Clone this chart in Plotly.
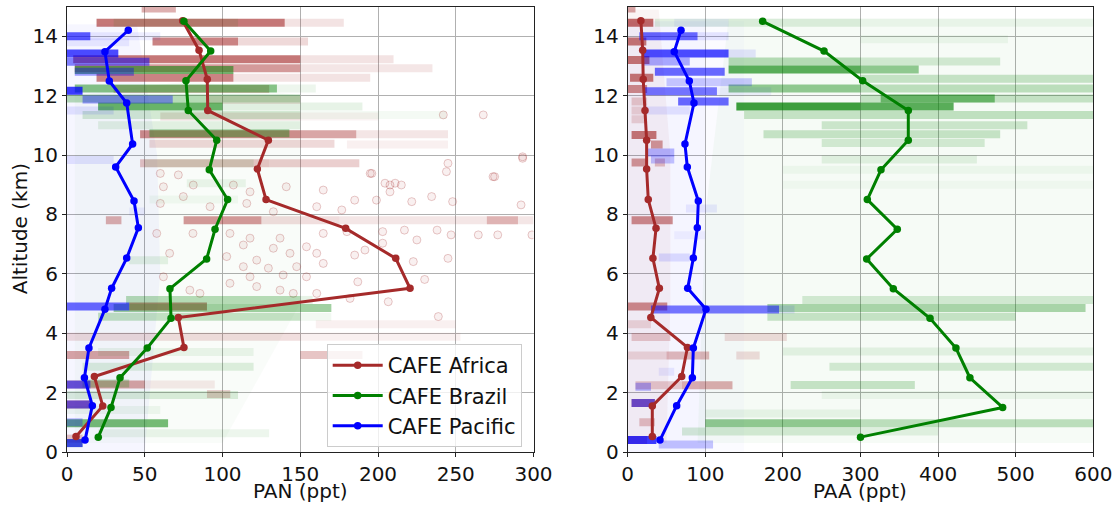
import plotly.graph_objects as go

# ---------------- mean vertical profiles (one point per 1-km bin) ----------------
africa_alt = [0.52, 1.55, 2.54, 3.52, 4.53, 5.51, 6.52, 7.53, 8.5, 9.53, 10.5, 11.5, 12.55, 13.53, 14.52]
brazil_alt = [0.5, 1.5, 2.5, 3.5, 4.5, 5.5, 6.5, 7.5, 8.5, 9.5, 10.5, 11.5, 12.5, 13.5, 14.5]
pacific_alt = [0.4, 1.56, 2.5, 3.5, 4.81, 5.51, 6.53, 7.55, 8.45, 9.6, 10.37, 11.75, 12.49, 13.48, 14.2]

africa_pan = [5.8, 23, 17.6, 75.2, 71.6, 220.6, 211.4, 179.2, 128, 122.4, 129.5, 90.5, 90.2, 84.9, 74.4]
brazil_pan = [20.1, 28.3, 34.1, 51.6, 66.9, 66.2, 89.8, 95.2, 103.3, 91.5, 96.3, 78, 76.5, 92.4, 75.2]
pacific_pan = [11.6, 16.3, 11.2, 14.1, 24.4, 28.7, 38.4, 45.9, 43.1, 31.3, 42.2, 38.4, 27.2, 24.4, 39.4]

africa_paa = [31.7, 31.7, 69.6, 77, 29.8, 40.8, 32.5, 36.5, 26.5, 24.4, 24.4, 22.3, 20, 19.3, 17]
brazil_paa = [300, 483.2, 441, 423, 389.6, 342.3, 308, 347.4, 308.8, 326.4, 361.6, 361.6, 302.8, 253, 173.9]
pacific_paa = [41.6, 63.1, 83.3, 84.6, 100.9, 77.3, 84.6, 89.7, 91, 76.8, 73.8, 85.4, 79.4, 60, 68.7]

# ---------------- individual measurements, summarised as horizontal bands ----------------
# each entry: (altitude km, lower mixing ratio, upper mixing ratio, density)
africa_pan_bands = [
    (14.93, 48, 70, 0.45), (14.45, 19, 140, 0.7), (14.45, 140, 178, 0.2),
    (13.82, 55, 110, 0.65), (13.82, 110, 155, 0.25), (13.22, 4, 150, 0.7), (13.22, 150, 210, 0.2),
    (12.92, 5, 150, 0.55), (12.92, 150, 235, 0.18), (12.6, 19, 107, 0.65), (12.6, 107, 195, 0.2),
    (12.22, 30, 130, 0.35), (11.85, 90, 150, 0.2), (11.3, 60, 150, 0.2), (11.3, 150, 200, 0.1),
    (10.7, 47, 150, 0.6), (10.7, 150, 186, 0.5), (10.7, 186, 245, 0.18), (10.38, 53, 172, 0.25),
    (10.35, 180, 245, 0.12), (9.72, 47, 130, 0.35), (9.72, 130, 188, 0.3),
    (7.8, 25, 35, 0.45), (7.8, 75, 125, 0.55), (7.8, 125, 175, 0.22), (7.8, 175, 300, 0.18),
    (7.8, 270, 290, 0.35), (4.9, 40, 90, 0.6), (4.3, 160, 250, 0.12), (3.88, 0, 150, 0.22),
    (3.88, 150, 253, 0.12), (3.27, 0, 40, 0.5), (3.27, 150, 190, 0.35), (2.27, 0, 50, 0.5),
    (2.27, 50, 95, 0.15), (1.95, 90, 105, 0.3), (1.6, 0, 15, 0.6), (0.45, 0, 10, 0.35),
]
brazil_pan_bands = [
    (14.45, 30, 110, 0.15), (12.86, 5, 107, 0.6), (12.24, 5, 135, 0.55), (12.24, 135, 160, 0.12),
    (11.9, 0, 150, 0.35), (11.63, 20, 100, 0.65), (11.63, 100, 190, 0.15), (11.35, 10, 150, 0.22),
    (11.35, 150, 244, 0.08), (11.0, 20, 150, 0.15), (10.73, 53, 143, 0.45), (9.72, 50, 120, 0.15),
    (9.05, 77, 115, 0.12), (8.5, 53, 110, 0.08), (6.46, 40, 65, 0.15), (5.12, 38, 150, 0.35),
    (5.12, 150, 158, 0.15), (4.85, 30, 170, 0.45), (4.55, 20, 150, 0.3), (4.55, 150, 170, 0.1),
    (3.37, 20, 120, 0.12), (2.87, 10, 120, 0.18), (2.31, 10, 40, 0.3), (1.92, 0, 110, 0.2),
    (1.41, 0, 60, 0.1), (0.97, 0, 65, 0.6), (0.63, 20, 130, 0.12), (0.3, 0, 10, 0.45),
]
pacific_pan_bands = [
    (14.0, 0, 15, 0.7), (14.0, 15, 60, 0.12), (13.8, 0, 40, 0.12), (13.42, 0, 33, 0.75),
    (13.14, 0, 53, 0.55), (12.8, 5, 43, 0.45), (12.16, 0, 10, 0.8), (11.87, 10, 68, 0.45),
    (11.5, 0, 30, 0.15), (9.83, 0, 30, 0.15), (8.1, 40, 50, 0.1), (4.9, 0, 40, 0.65),
    (2.27, 0, 15, 0.6), (1.6, 0, 15, 0.55), (1.0, 0, 10, 0.35), (0.3, 0, 10, 0.7),
]

africa_paa_bands = [
    (14.93, 0, 10, 0.5), (14.45, 0, 33, 0.75), (13.82, 0, 24, 0.7), (13.2, 0, 28, 0.7),
    (12.6, 3, 33, 0.7), (12.22, 0, 25, 0.6), (11.8, 5, 25, 0.3), (11.5, 5, 25, 0.25),
    (11.2, 5, 25, 0.25), (10.67, 5, 37, 0.7), (10.35, 30, 45, 0.55), (9.75, 5, 25, 0.55),
    (9.75, 35, 48, 0.35), (7.8, 5, 58, 0.6), (4.9, 0, 51, 0.6), (4.3, 0, 30, 0.22),
    (3.87, 5, 55, 0.3), (3.87, 125, 205, 0.22), (3.25, 0, 50, 0.22), (3.25, 50, 105, 0.4),
    (3.25, 140, 170, 0.22), (2.25, 10, 70, 0.3), (2.25, 70, 135, 0.45), (1.65, 5, 35, 0.6),
    (1.0, 15, 35, 0.35), (0.4, 0, 25, 0.45),
]
brazil_paa_bands = [
    (14.45, 35, 300, 0.18), (14.45, 300, 600, 0.1), (13.9, 300, 490, 0.1), (13.15, 130, 300, 0.35),
    (13.15, 300, 480, 0.22), (12.88, 130, 300, 0.7), (12.88, 300, 375, 0.5), (12.57, 300, 600, 0.28),
    (12.24, 130, 300, 0.5), (12.24, 300, 600, 0.32), (11.9, 300, 600, 0.28), (11.9, 326, 473, 0.55),
    (11.63, 140, 300, 0.8), (11.63, 300, 420, 0.7), (11.35, 150, 300, 0.28), (11.35, 300, 600, 0.3),
    (11.0, 250, 515, 0.25), (10.7, 175, 480, 0.28), (10.4, 250, 460, 0.22), (9.85, 250, 450, 0.15),
    (9.5, 200, 600, 0.08), (9.0, 200, 600, 0.06), (5.12, 225, 600, 0.22), (4.85, 180, 590, 0.4),
    (4.55, 180, 500, 0.28), (3.38, 200, 600, 0.14), (2.87, 260, 600, 0.22), (2.26, 210, 370, 0.28),
    (1.92, 250, 600, 0.1), (1.3, 100, 300, 0.12), (0.97, 100, 300, 0.5), (0.97, 300, 600, 0.32),
    (0.69, 70, 300, 0.22), (0.69, 300, 400, 0.15),
]
pacific_paa_bands = [
    (14.45, 60, 130, 0.1), (14.0, 15, 90, 0.65), (14.0, 90, 130, 0.15), (13.42, 20, 130, 0.75),
    (13.42, 130, 165, 0.15), (13.15, 20, 80, 0.4), (12.8, 35, 125, 0.65), (12.45, 50, 160, 0.28),
    (12.15, 20, 115, 0.6), (12.15, 115, 185, 0.1), (11.8, 65, 130, 0.65), (11.5, 20, 80, 0.15),
    (10.08, 25, 60, 0.35), (9.85, 30, 60, 0.3), (8.2, 75, 115, 0.12), (7.3, 60, 100, 0.08),
    (6.55, 40, 80, 0.18), (4.8, 30, 195, 0.6), (4.8, 195, 215, 0.15), (2.7, 40, 60, 0.12),
    (2.2, 10, 30, 0.35), (1.65, 5, 35, 0.55), (0.4, 0, 37, 0.8), (0.25, 40, 110, 0.3),
]

# diffuse background of scattered samples (outline of each cloud, inner and outer)
pacific_pan_cloud_x = [0, 50, 60, 58, 45, 0]
pacific_pan_cloud_y = [0, 0, 6, 10, 14.4, 14.4]
brazil_pan_cloud_x = [5, 100, 150, 150, 80, 5]
brazil_pan_cloud_y = [0.3, 0.3, 5, 12, 12.5, 12]
africa_paa_cloud_x = [0, 50, 55, 55, 40, 0]
africa_paa_cloud_y = [0.3, 0.3, 5, 10, 14.9, 14.9]
pacific_paa_cloud_x = [0, 150, 150, 0]
pacific_paa_cloud_y = [0, 0, 14.5, 14.5]
pacific_paa_core_x = [0, 100, 100, 0]
pacific_paa_core_y = [0, 0, 14.5, 14.5]
brazil_paa_cloud_x = [90, 600, 600, 130, 100]
brazil_paa_cloud_y = [0.3, 0.3, 14.6, 14.6, 8]

# isolated Africa PAN samples in the free troposphere
africa_pan_pts_x = [196, 204.5, 211, 215, 207.7, 221.7, 234.5, 245, 244, 248, 275, 292, 293, 185, 199,
                    180, 203, 217, 238, 247, 264.5, 277, 299, 225, 203, 185, 191.6, 245, 222.7, 230,
                    187, 206.6, 182, 238.8, 60, 71.6, 62, 81.2, 107, 117.7, 141, 164.8, 160.6, 176.7,
                    60, 74.8, 92, 115.6, 132.7, 57.7, 81, 104.8, 117.7, 137, 164.8, 113.4, 132.7, 154,
                    66, 102.7, 122, 143.4, 160.6, 113.4, 129.5, 147.7, 164.8, 117.7, 139, 154, 104.8,
                    79, 122, 137, 145.5, 160.6, 85.5, 62, 267.7, 242, 293, 274, 195, 207.7]
africa_pan_pts_y = [9.38, 9.05, 9.05, 8.99, 8.76, 8.43, 8.6, 9.72, 9.44, 8.43, 9.27, 8.32, 9.89, 8.48, 8.48,
                    7.42, 7.42, 7.47, 7.47, 7.31, 7.31, 7.31, 7.31, 7.14, 7.03, 6.63, 6.8, 6.52, 6.41, 5.81,
                    5.73, 5.06, 5.17, 4.56, 9.38, 9.33, 8.93, 8.99, 8.99, 8.76, 8.93, 8.82, 8.26, 8.15,
                    8.37, 8.6, 8.26, 8.37, 8.09, 7.36, 7.36, 7.36, 7.2, 7.2, 7.36, 6.97, 6.86, 6.91,
                    6.69, 6.58, 6.46, 6.69, 6.69, 6.24, 6.19, 6.24, 6.35, 5.9, 5.96, 5.9, 5.68,
                    5.45, 5.57, 5.45, 5.34, 5.34, 5.34, 5.9, 11.35, 11.35, 9.94, 9.27, 9.38, 8.99]

BROWN = (165, 42, 42)
GREEN = (0, 128, 0)
BLUE = (0, 0, 255)


def rgba(c, a):
    return f"rgba({c[0]},{c[1]},{c[2]},{a:.3f})"


fig = go.Figure()


def add_cloud(xs, ys, color, alpha, xa, ya):
    fig.add_trace(go.Scatter(x=xs, y=ys, mode="lines", fill="toself", fillcolor=rgba(color, alpha),
                             line=dict(width=0), xaxis=xa, yaxis=ya, showlegend=False, hoverinfo="skip"))


def add_bands(table, color, xa, ya):
    for alt, lo, hi, dens in table:
        fig.add_trace(go.Scatter(x=[lo, hi], y=[alt, alt], mode="lines",
                                 line=dict(color=rgba(color, dens ** 1.25), width=8),
                                 xaxis=xa, yaxis=ya, showlegend=False, hoverinfo="skip"))


# left panel: PAN
add_cloud(brazil_pan_cloud_x, brazil_pan_cloud_y, GREEN, 0.025, "x", "y")
add_cloud(pacific_pan_cloud_x, pacific_pan_cloud_y, BLUE, 0.035, "x", "y")
fig.add_trace(go.Scatter(x=africa_pan_pts_x, y=africa_pan_pts_y, mode="markers",
                         marker=dict(size=8, color=rgba(BROWN, 0.07), line=dict(color=rgba(BROWN, 0.25), width=1)),
                         xaxis="x", yaxis="y", showlegend=False, hoverinfo="skip"))
add_bands(africa_pan_bands, BROWN, "x", "y")
add_bands(brazil_pan_bands, GREEN, "x", "y")
add_bands(pacific_pan_bands, BLUE, "x", "y")

# right panel: PAA
add_cloud(brazil_paa_cloud_x, brazil_paa_cloud_y, GREEN, 0.035, "x2", "y2")
add_cloud(pacific_paa_cloud_x, pacific_paa_cloud_y, BLUE, 0.015, "x2", "y2")
add_cloud(pacific_paa_core_x, pacific_paa_core_y, BLUE, 0.025, "x2", "y2")
add_cloud(africa_paa_cloud_x, africa_paa_cloud_y, BROWN, 0.05, "x2", "y2")
add_bands(africa_paa_bands, BROWN, "x2", "y2")
add_bands(brazil_paa_bands, GREEN, "x2", "y2")
add_bands(pacific_paa_bands, BLUE, "x2", "y2")

# mean profiles on top
profiles = [
    ("CAFE Africa", africa_alt, africa_pan, africa_paa, "brown"),
    ("CAFE Brazil", brazil_alt, brazil_pan, brazil_paa, "green"),
    ("CAFE Pacific", pacific_alt, pacific_pan, pacific_paa, "blue"),
]
for name, alt, pan, paa, col in profiles:
    fig.add_trace(go.Scatter(x=pan, y=alt, mode="lines+markers", name=name,
                             line=dict(color=col, width=3), marker=dict(color=col, size=7.5),
                             xaxis="x", yaxis="y"))
    fig.add_trace(go.Scatter(x=paa, y=alt, mode="lines+markers", name=name, showlegend=False,
                             line=dict(color=col, width=3), marker=dict(color=col, size=7.5),
                             xaxis="x2", yaxis="y2"))

FONT = "DejaVu Sans"
W, H = 1114, 506
TICK_FS, TITLE_FS, LEGEND_FS = 20, 20, 21
axis_common = dict(showgrid=True, gridcolor="#b0b0b0", gridwidth=1, zeroline=False,
                   showline=True, mirror=True, linecolor="#222", linewidth=1,
                   ticks="outside", ticklen=4, tickcolor="#222", automargin=False,
                   tickfont=dict(family=FONT, size=TICK_FS, color="#111"))
ydom = [54 / H, 499.5 / H]
left_dom = [67 / W, 533.5 / W]
right_dom = [627.7 / W, 1093.3 / W]

fig.update_layout(
    width=W, height=H, margin=dict(l=0, r=0, t=0, b=0),
    paper_bgcolor="white", plot_bgcolor="white",
    font=dict(family=FONT, size=TITLE_FS, color="#111"),
    xaxis=dict(domain=left_dom, range=[0, 300], tickvals=[0, 50, 100, 150, 200, 250, 300],
               anchor="y", **axis_common),
    yaxis=dict(domain=ydom, range=[0, 15], tickvals=[0, 2, 4, 6, 8, 10, 12, 14], anchor="x", **axis_common),
    xaxis2=dict(domain=right_dom, range=[0, 600], tickvals=[0, 100, 200, 300, 400, 500, 600],
                anchor="y2", **axis_common),
    yaxis2=dict(domain=ydom, range=[0, 15], tickvals=[0, 2, 4, 6, 8, 10, 12, 14], anchor="x2", **axis_common),
    legend=dict(x=326.7 / W, y=(H - 344) / H, xanchor="left", yanchor="top", itemwidth=50,
                bgcolor="rgba(255,255,255,0.8)", bordercolor="#cccccc", borderwidth=1,
                font=dict(family=FONT, size=LEGEND_FS, color="#111")),
    showlegend=True,
)

# axis titles
title_y = (H - 491) / H
fig.add_annotation(text="PAN (ppt)", x=sum(left_dom) / 2, y=title_y, xref="paper", yref="paper",
                   showarrow=False, xanchor="center", yanchor="middle", font=dict(size=TITLE_FS))
fig.add_annotation(text="PAA (ppt)", x=sum(right_dom) / 2, y=title_y, xref="paper", yref="paper",
                   showarrow=False, xanchor="center", yanchor="middle", font=dict(size=TITLE_FS))
fig.add_annotation(text="Altitude (km)", x=20 / W, y=sum(ydom) / 2, xref="paper", yref="paper",
                   showarrow=False, xanchor="center", yanchor="middle", textangle=-90,
                   font=dict(size=TITLE_FS))

fig.write_html("out.html")
